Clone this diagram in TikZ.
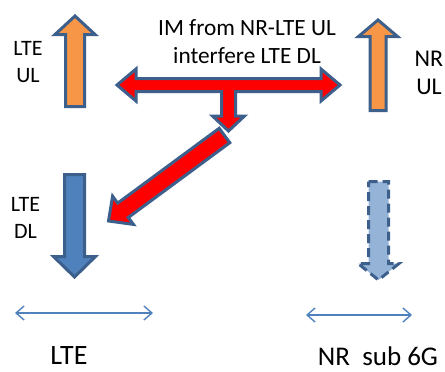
\documentclass[tikz,border=0pt]{standalone}
\usepackage{fontspec}
\setmainfont{Carlito}
\usetikzlibrary{arrows.meta}
\definecolor{orangefill}{HTML}{F79646}
\definecolor{outlineblue}{HTML}{3D5F8C}
\definecolor{dlblue}{HTML}{4F81BD}
\definecolor{lightdl}{HTML}{95B3D7}
\definecolor{imred}{HTML}{FF0000}
\tikzset{
  blockarrow/.style={line width=3pt, draw=outlineblue, line join=miter, miter limit=4},
  ularrow/.style={blockarrow, fill=orangefill},
  dlarrow/.style={blockarrow, fill=dlblue},
  nrdlarrow/.style={blockarrow, fill=lightdl, dash pattern=on 9pt off 5pt},
  imarrow/.style={blockarrow, fill=imred},
  bandarrow/.style={draw=dlblue, line width=1.4pt, {Straight Barb[length=8pt,width=14pt,line width=1.4pt]}-{Straight Barb[length=8pt,width=14pt,line width=1.4pt]}},
  label/.style={align=center, inner sep=0pt, text=black}
}
\begin{document}
\begin{tikzpicture}[x=1pt,y=-1pt]
\useasboundingbox (0,0) rectangle (445,372);
% LTE UL arrow
\draw[ularrow] (75,16) -- (95,34.5) -- (84.5,34.5) -- (84.5,106.5) -- (65.5,106.5) -- (65.5,34.5) -- (55,34.5) -- cycle;
% NR UL arrow
\draw[ularrow] (378,20) -- (397.5,36.5) -- (386,36.5) -- (386,110.5) -- (370,110.5) -- (370,36.5) -- (358.5,36.5) -- cycle;
% LTE DL arrow
\draw[dlarrow] (64.5,174.5) -- (84.5,174.5) -- (84.5,256.5) -- (95.5,256.5) -- (74.5,277) -- (53.5,256.5) -- (64.5,256.5) -- cycle;
% NR DL arrow (dashed)
\draw[nrdlarrow] (368.5,181.5) -- (388.5,181.5) -- (388.5,263.5) -- (399,263.5) -- (378.5,280) -- (358,263.5) -- (368.5,263.5) -- cycle;
% diagonal IM arrow
\draw[imarrow] (108.5,221) -- (133.4,224.4) -- (128.3,217.5) -- (229.8,142.7) -- (219.2,128.3) -- (117.7,203.1) -- (112.6,196.2) -- cycle;
% T-shaped IM arrow
\draw[imarrow] (117,85) -- (136,69) -- (136,78.5) -- (321,78.5) -- (321,69) -- (340,85) -- (321,101) -- (321,91.5)
  -- (235.5,91.5) -- (235.5,116) -- (244.5,116) -- (228.5,131) -- (212.5,116) -- (221.5,116) -- (221.5,91.5)
  -- (136,91.5) -- (136,101) -- cycle;
% band arrows
\coordinate (lteL) at (15,313);
\coordinate (lteR) at (153,313);
\coordinate (nrL) at (306,315);
\coordinate (nrR) at (412,315);
\draw[bandarrow] (lteL) -- (lteR);
\draw[bandarrow] (nrL) -- (nrR);
% labels
\node[label, font=\fontsize{22}{27}\selectfont] (lteul) at (28,62) {LTE\\UL};
\node[label, font=\fontsize{22}{27}\selectfont] (ltedl) at (25.5,218) {LTE\\DL};
\node[label, font=\fontsize{24}{28}\selectfont] (nrul) at (429,73) {NR\\UL};
\node[label, font=\fontsize{23.3}{28}\selectfont] (title) at (247,42) {IM from NR-LTE UL\\interfere LTE DL};
\node[label, font=\fontsize{28}{32}\selectfont] (lte) at (69,356) {LTE};
\node[label, font=\fontsize{27}{32}\selectfont] (nr) at (378,356) {NR\ \ sub 6G};
\end{tikzpicture}
\end{document}
